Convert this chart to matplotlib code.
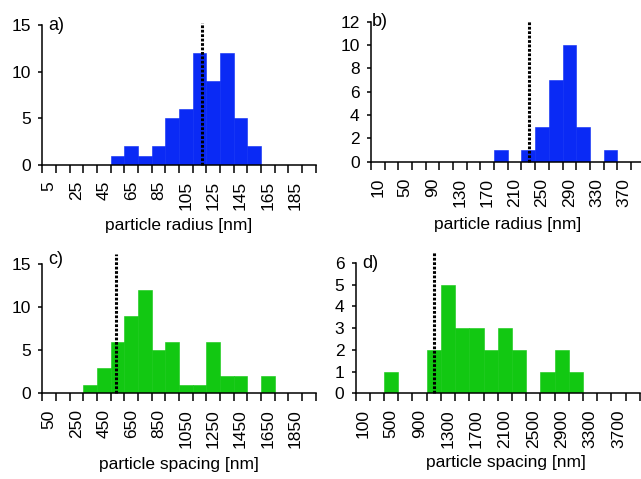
import matplotlib.pyplot as plt
import numpy as np

plt.rcParams.update({'font.family': ['Liberation Sans', 'DejaVu Sans'], 'font.size': 12})

# histogram data (bin centres + counts)
a_centers = [55, 65, 75, 85, 95, 105, 115, 125, 135, 145, 155]
a_counts = [1, 2, 1, 2, 5, 6, 12, 9, 12, 5, 2]
a_width = 10
a_labels = [5, 25, 45, 65, 85, 105, 125, 145, 165, 185]
a_yticks = [0, 5, 10, 15]
a_mean = 117

b_centers = [190, 230, 250, 270, 290, 310, 350]
b_counts = [1, 1, 3, 7, 10, 3, 1]
b_width = 20
b_labels = [10, 50, 90, 130, 170, 210, 250, 290, 330, 370]
b_yticks = [0, 2, 4, 6, 8, 10, 12]
b_mean = 231

c_centers = [350, 450, 550, 650, 750, 850, 950, 1050, 1150, 1250, 1350, 1450, 1650]
c_counts = [1, 3, 6, 9, 12, 5, 6, 1, 1, 6, 2, 2, 2]
c_width = 100
c_labels = [50, 250, 450, 650, 850, 1050, 1250, 1450, 1650, 1850]
c_yticks = [0, 5, 10, 15]
c_mean = 540

d_centers = [500, 1100, 1300, 1500, 1700, 1900, 2100, 2300, 2700, 2900, 3100]
d_counts = [1, 2, 5, 3, 3, 2, 3, 2, 1, 2, 1]
d_width = 200
d_labels = [100, 500, 900, 1300, 1700, 2100, 2500, 2900, 3300, 3700]
d_yticks = [0, 1, 2, 3, 4, 5, 6]
d_mean = 1108

blue = '#0a2af5'
green = '#12c812'

fig = plt.figure(figsize=(6.41, 4.79), dpi=100)


def panel(rect, centers, counts, width, labels, yticks, mean, mean_top, color,
          tag, tag_xy, xlabel, label_y, label_x=0.5):
    ax = fig.add_axes(rect)
    nbins = 20
    ax.bar(centers, counts, width=width, color=color, edgecolor=color, linewidth=0.4, zorder=2)
    ax.set_xlim(0, nbins * width)
    ax.set_ylim(0, yticks[-1])
    # bin edges as unlabeled ticks, labels on bin centres
    ax.set_xticks(np.arange(nbins + 1) * width, minor=True)
    ax.set_xticks(labels)
    ax.set_xticklabels([str(v) for v in labels], rotation=90)
    ax.tick_params(axis='x', which='major', length=0, pad=11.5, labelsize=12.5)
    ax.tick_params(axis='x', which='minor', length=5.5, width=1.1)
    ax.set_yticks(yticks)
    ax.tick_params(axis='y', length=3.2, width=1.1, pad=5, labelsize=12.5)
    for s in ['top', 'right']:
        ax.spines[s].set_visible(False)
    for s in ['left', 'bottom']:
        ax.spines[s].set_linewidth(1.1)
    ax.plot([mean, mean], [0, mean_top], color='black', lw=2.2,
            linestyle=(0, (0.9, 0.55)), dash_capstyle='butt', clip_on=False, zorder=3)
    ax.text(tag_xy[0], tag_xy[1], tag, transform=ax.transAxes, fontsize=13,
            ha='left', va='center')
    ax.set_xlabel(xlabel, fontsize=12.5)
    ax.xaxis.set_label_coords(label_x, label_y)
    return ax


panel([0.066, 0.6555, 0.4265, 0.2923], a_centers, a_counts, a_width, a_labels, a_yticks,
      a_mean, 15.2, blue, 'a)', (0.021, 1.0), 'particle radius [nm]', -0.375)
panel([0.5788, 0.6624, 0.4268, 0.2923], b_centers, b_counts, b_width, b_labels, b_yticks,
      b_mean, 12.1, blue, 'b)', (0.004, 1.0), 'particle radius [nm]', -0.395)
panel([0.066, 0.1789, 0.4265, 0.2693], c_centers, c_counts, c_width, c_labels, c_yticks,
      c_mean, 16.2, green, 'c)', (0.021, 1.04), 'particle spacing [nm]', -0.49)
panel([0.5549, 0.1789, 0.4431, 0.2720], d_centers, d_counts, d_width, d_labels, d_yticks,
      d_mean, 6.5, green, 'd)', (0.022, 1.0), 'particle spacing [nm]', -0.475, 0.53)

fig.savefig('out.png', dpi=100)
